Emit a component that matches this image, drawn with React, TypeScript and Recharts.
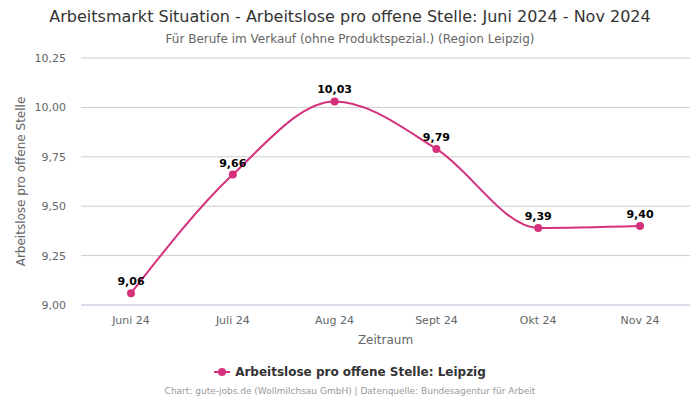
import React from "react";
import { LineChart, Line, XAxis, YAxis, CartesianGrid, LabelList } from "recharts";

const categories = ["Juni 24", "Juli 24", "Aug 24", "Sept 24", "Okt 24", "Nov 24"];
const values = [9.06, 9.66, 10.03, 9.79, 9.39, 9.4];
const yTicks = [9.0, 9.25, 9.5, 9.75, 10.0, 10.25];
const seriesName = "Arbeitslose pro offene Stelle: Leipzig";

const data = categories.map((c, i) => ({ name: c, value: values[i] }));
const COLOR = "#d4307c";
const fmt = (v: number) => v.toFixed(2).replace(".", ",");
const FONT = "'DejaVu Sans', sans-serif";

export default function App() {
  return (
    <div style={{ position: "absolute", left: 0, top: 0, width: 700, height: 400, fontFamily: FONT }}>
      <div style={{ position: "absolute", top: 7, left: 0, width: 700, textAlign: "center", fontSize: 16, color: "#333" }}>
        Arbeitsmarkt Situation - Arbeitslose pro offene Stelle: Juni 2024 - Nov 2024
      </div>
      <div style={{ position: "absolute", top: 32, left: 0, width: 700, textAlign: "center", fontSize: 12, color: "#666" }}>
        Für Berufe im Verkauf (ohne Produktspezial.) (Region Leipzig)
      </div>
      <LineChart width={700} height={400} data={data} margin={{ top: 58, right: 10, bottom: 55, left: 0 }} style={{ fontFamily: FONT }}>
        <CartesianGrid vertical={false} stroke="#cccccc" />
        <XAxis
          dataKey="name"
          padding={{ left: 50, right: 50 }}
          tickLine={false}
          axisLine={{ stroke: "#ccd6eb" }}
          tick={{ fontSize: 11, fill: "#666" }}
          tickMargin={5}
          height={40}
          label={{ value: "Zeitraum", position: "insideBottom", offset: 1, fontSize: 12, fill: "#666" }}
        />
        <YAxis
          domain={[9, 10.25]}
          ticks={yTicks}
          tickFormatter={fmt}
          axisLine={false}
          tickLine={false}
          tick={{ fontSize: 11, fill: "#666" }}
          width={81}
          tickMargin={9}
          label={{ value: "Arbeitslose pro offene Stelle", angle: -90, position: "insideLeft", offset: 21, fontSize: 12, fill: "#666", style: { textAnchor: "middle" } }}
        />
        <Line
          name={seriesName}
          type="monotone"
          dataKey="value"
          stroke={COLOR}
          strokeWidth={2}
          dot={{ r: 4, fill: COLOR, stroke: COLOR, strokeWidth: 0 }}
          activeDot={false}
          isAnimationActive={false}
        >
          <LabelList dataKey="value" position="top" offset={8} formatter={(v: number) => fmt(v)} style={{ fontSize: 11, fontWeight: "bold", fill: "#000" }} />
        </Line>
      </LineChart>
      <div style={{ position: "absolute", top: 365, left: 0, width: 700, display: "flex", justifyContent: "center", alignItems: "center" }}>
        <svg width={16} height={12} style={{ marginRight: 5 }}>
          <line x1={0} y1={6} x2={16} y2={6} stroke={COLOR} strokeWidth={2} />
          <circle cx={8} cy={6} r={4} fill={COLOR} />
        </svg>
        <span style={{ color: "#333", fontWeight: "bold", fontSize: 12 }}>{seriesName}</span>
      </div>
      <div style={{ position: "absolute", top: 386, left: 0, width: 700, textAlign: "center", fontSize: 9, color: "#999" }}>
        Chart: gute-jobs.de (Wollmilchsau GmbH) | Datenquelle: Bundesagentur für Arbeit
      </div>
    </div>
  );
}
